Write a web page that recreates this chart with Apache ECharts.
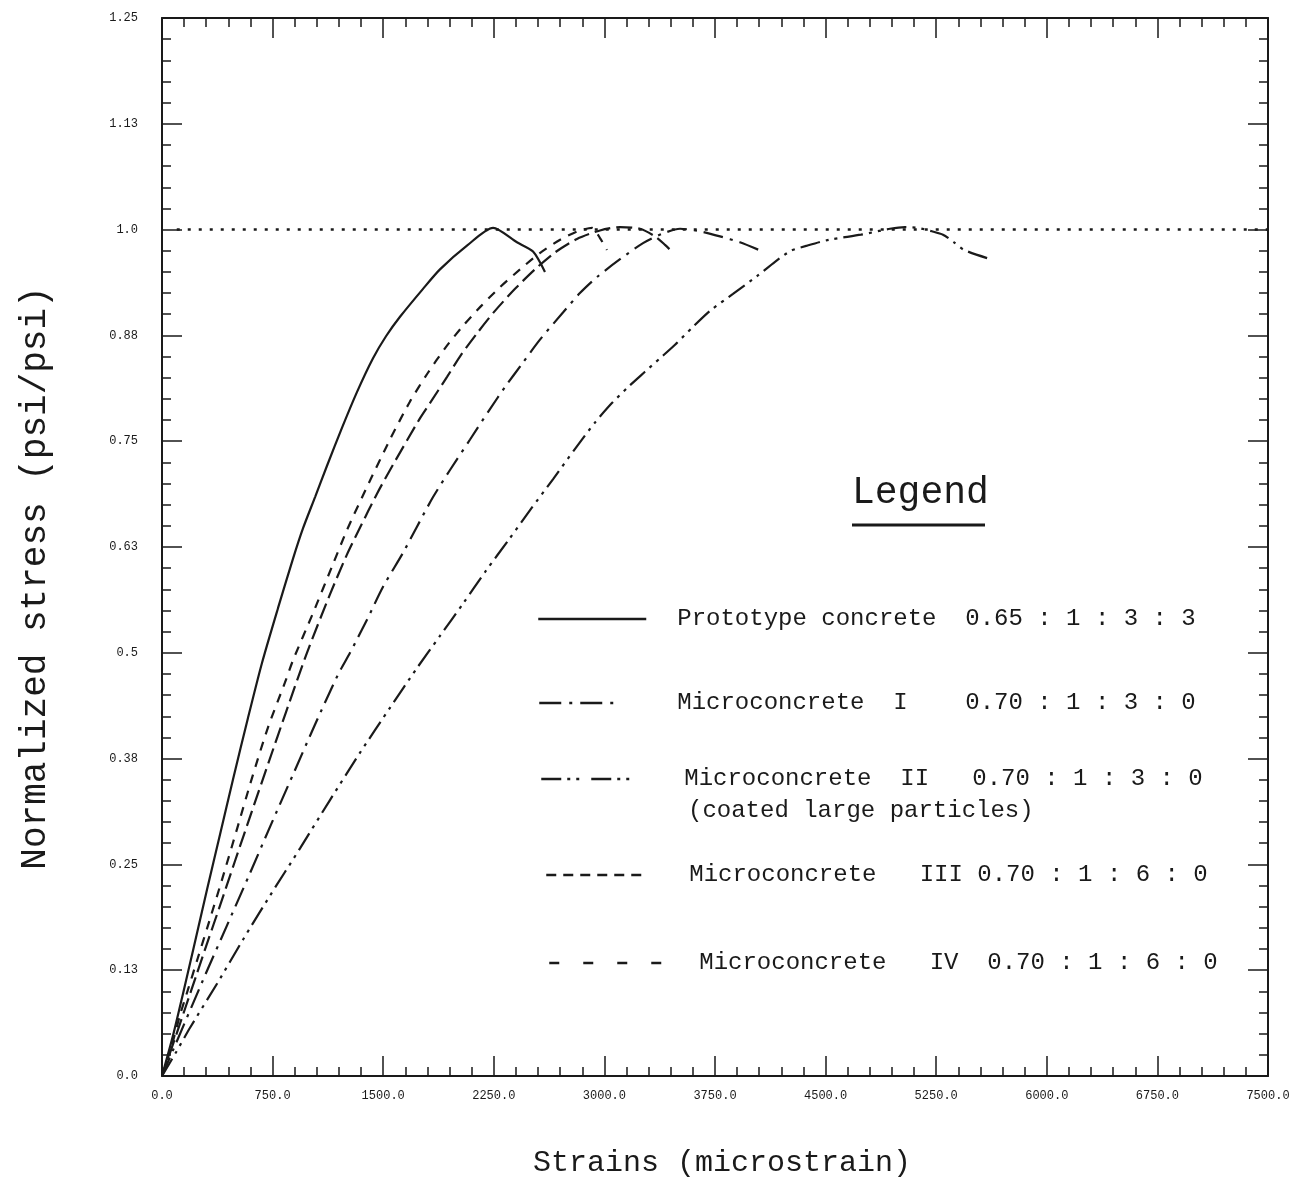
<!DOCTYPE html>
<html>
<head>
<meta charset="utf-8">
<title>Normalized stress vs strain</title>
<script src="https://cdn.jsdelivr.net/npm/echarts@6/dist/echarts.min.js"></script>
<style>
  html, body { margin: 0; padding: 0; background: #fff; }
  #chart { width: 1308px; height: 1187px; }
</style>
</head>
<body>
<div id="chart"></div>
<script>
// tick labels as printed on the original plot
const xTickLabels = ['0.0', '750.0', '1500.0', '2250.0', '3000.0', '3750.0', '4500.0', '5250.0', '6000.0', '6750.0', '7500.0']
const yTickLabels = ['0.0', '0.13', '0.25', '0.38', '0.5', '0.63', '0.75', '0.88', '1.0', '1.13', '1.25']

const seriesNames = ['Prototype concrete', 'Microconcrete I', 'Microconcrete II', 'Microconcrete III', 'Microconcrete IV']
const legendLabels = [
  'Prototype concrete  0.65 : 1 : 3 : 3',
  'Microconcrete  I    0.70 : 1 : 3 : 0',
  'Microconcrete  II   0.70 : 1 : 3 : 0',
  'Microconcrete   III 0.70 : 1 : 6 : 0',
  'Microconcrete   IV  0.70 : 1 : 6 : 0',
]

// strains (microstrain) / normalized stress
const protoStrain = [0, 75, 142, 210, 305, 393, 481, 583, 678, 787, 888, 956, 1038, 1119, 1221, 1322, 1431, 1519, 1614, 1770, 1885, 2068, 2245, 2407, 2516, 2597]
const protoStress = [0, 0.048, 0.097, 0.148, 0.22, 0.285, 0.35, 0.423, 0.488, 0.553, 0.611, 0.647, 0.684, 0.721, 0.766, 0.808, 0.848, 0.874, 0.897, 0.93, 0.953, 0.981, 1.002, 0.985, 0.974, 0.95]

const mc1Strain = [0, 292, 441, 590, 739, 888, 1037, 1193, 1275, 1390, 1499, 1634, 1729, 1838, 1953, 2089, 2224, 2326, 2448, 2563, 2719, 2834, 2950, 3106, 3262, 3390, 3513, 3648, 3784, 3919, 4075]
const mc1Stress = [0, 0.119, 0.178, 0.237, 0.297, 0.356, 0.415, 0.474, 0.5, 0.539, 0.578, 0.618, 0.649, 0.684, 0.716, 0.752, 0.788, 0.814, 0.843, 0.87, 0.902, 0.925, 0.944, 0.965, 0.984, 0.995, 1.001, 0.998, 0.992, 0.985, 0.974]

const mc2Strain = [0, 95, 190, 373, 549, 732, 936, 1139, 1343, 1546, 1729, 1885, 2041, 2197, 2353, 2502, 2651, 2801, 2936, 3051, 3167, 3275, 3377, 3479, 3594, 3716, 3872, 4035, 4157, 4265, 4374, 4523, 4740, 4937, 5038, 5126, 5221, 5296, 5371, 5438, 5601]
const mc2Stress = [0, 0.028, 0.057, 0.109, 0.161, 0.213, 0.269, 0.326, 0.382, 0.435, 0.482, 0.52, 0.558, 0.597, 0.634, 0.67, 0.705, 0.741, 0.772, 0.795, 0.815, 0.832, 0.848, 0.864, 0.884, 0.904, 0.924, 0.945, 0.962, 0.975, 0.981, 0.988, 0.994, 1.001, 1.003, 1.002, 0.998, 0.994, 0.985, 0.976, 0.966]

const mc3Strain = [0, 95, 163, 231, 312, 387, 495, 610, 726, 841, 983, 1139, 1254, 1343, 1458, 1566, 1749, 1817, 1933, 2028, 2143, 2258, 2394, 2529, 2665, 2814, 2970, 3106, 3241, 3343, 3411, 3458]
const mc3Stress = [0, 0.048, 0.083, 0.118, 0.16, 0.198, 0.254, 0.313, 0.372, 0.43, 0.5, 0.569, 0.616, 0.648, 0.688, 0.722, 0.777, 0.795, 0.826, 0.852, 0.879, 0.904, 0.93, 0.953, 0.973, 0.989, 0.999, 1.003, 1.001, 0.992, 0.982, 0.974]

const mc4Strain = [0, 68, 122, 176, 244, 312, 407, 509, 610, 719, 834, 888, 1024, 1160, 1254, 1390, 1546, 1682, 1800, 1920, 2040, 2160, 2292, 2428, 2560, 2700, 2820, 2916, 2970, 3017]
const mc4Stress = [0, 0.037, 0.072, 0.102, 0.14, 0.178, 0.232, 0.292, 0.352, 0.412, 0.465, 0.491, 0.547, 0.605, 0.645, 0.696, 0.752, 0.797, 0.83, 0.86, 0.886, 0.909, 0.932, 0.953, 0.972, 0.988, 0.998, 1.002, 0.99, 0.976]

// reference level (peak stress = 1.0)
const peakStrain = [100, 7500]
const peakStress = [1.0, 1.0]

const MONO = '"Liberation Mono", "DejaVu Sans Mono", monospace'
const INK = '#1a1a1a'

const zip = (xs, ys) => xs.map((x, i) => [x, ys[i]])

const curves = [
  { data: zip(protoStrain, protoStress), dash: 'solid', legendDash: 'solid', legendWidth: 108, left: 537, top: 607, pad: 26 },
  { data: zip(mc1Strain, mc1Stress), dash: [20, 7, 3, 7], legendDash: [22, 8, 3, 8], legendWidth: 80, left: 538, top: 691, pad: 53 },
  { data: zip(mc2Strain, mc2Stress), dash: [20, 6, 3, 6, 3, 6], legendDash: [20, 6, 3, 6, 3, 12], legendWidth: 100, left: 540, top: 767, pad: 38 },
  { data: zip(mc3Strain, mc3Stress), dash: [16, 6], legendDash: [10, 7], legendWidth: 95, left: 545, top: 863, pad: 43 },
  { data: zip(mc4Strain, mc4Stress), dash: [9, 8], legendDash: [10, 24], legendWidth: 112, left: 548, top: 951, pad: 33 },
]

const chart = echarts.init(document.getElementById('chart'), null, { renderer: 'canvas' })

const baseAxis = {
  type: 'value',
  axisLine: { onZero: false, lineStyle: { color: INK, width: 2 } },
  axisTick: { inside: true, length: 20, lineStyle: { color: INK, width: 1.5 } },
  minorTick: { show: true, splitNumber: 5, length: 9, lineStyle: { color: INK, width: 1.5 } },
  splitLine: { show: false },
}

chart.setOption({
  animation: false,
  backgroundColor: '#fff',
  grid: { left: 162, right: 40, top: 18, bottom: 111 },
  xAxis: [
    {
      ...baseAxis,
      min: 0,
      max: 7500,
      interval: 750,
      name: 'Strains (microstrain)',
      nameLocation: 'middle',
      nameGap: 72,
      nameTextStyle: { fontFamily: MONO, fontSize: 30, color: INK, padding: [0, 0, 0, 14] },
      axisLabel: {
        margin: 14,
        fontFamily: MONO,
        fontSize: 12,
        color: INK,
        formatter: v => xTickLabels[Math.round(v / 750)],
      },
    },
    { ...baseAxis, position: 'top', min: 0, max: 7500, interval: 750, axisLabel: { show: false } },
  ],
  yAxis: [
    {
      ...baseAxis,
      min: 0,
      max: 1.25,
      interval: 0.125,
      name: 'Normalized stress (psi/psi)',
      nameLocation: 'middle',
      nameGap: 109,
      nameTextStyle: { fontFamily: MONO, fontSize: 36, color: INK, padding: [0, 62, 0, 0] },
      axisLabel: {
        margin: 24,
        fontFamily: MONO,
        fontSize: 12,
        color: INK,
        formatter: v => yTickLabels[Math.round(v / 0.125)],
      },
    },
    { ...baseAxis, position: 'right', min: 0, max: 1.25, interval: 0.125, axisLabel: { show: false } },
  ],
  legend: curves.map((c, i) => ({
    data: [seriesNames[i]],
    left: c.left,
    top: c.top,
    padding: 0,
    itemWidth: c.legendWidth,
    itemHeight: 14,
    selectedMode: false,
    itemStyle: { opacity: 0 },
    lineStyle: { type: c.legendDash, width: 2.5, color: INK },
    formatter: () => legendLabels[i],
    textStyle: { fontFamily: MONO, fontSize: 24, color: INK, padding: [0, 0, 0, c.pad] },
  })),
  graphic: [
    {
      type: 'text',
      left: 852,
      top: 474,
      style: { text: 'Legend', font: `38px ${MONO}`, fill: INK },
    },
    {
      type: 'line',
      shape: { x1: 852, y1: 525, x2: 985, y2: 525 },
      style: { stroke: INK, lineWidth: 3 },
    },
    {
      type: 'text',
      left: 688,
      top: 799,
      style: { text: '(coated large particles)', font: `24px ${MONO}`, fill: INK },
    },
  ],
  series: [
    ...curves.map((c, i) => ({
      name: seriesNames[i],
      type: 'line',
      data: c.data,
      symbol: 'none',
      smooth: 0.25,
      itemStyle: { color: INK },
      lineStyle: { color: INK, width: 2.2, type: c.dash },
    })),
    {
      name: 'Peak',
      type: 'line',
      data: zip(peakStrain, peakStress),
      symbol: 'none',
      itemStyle: { color: INK },
      lineStyle: { color: INK, width: 2.5, type: [3, 8] },
    },
  ],
})
</script>
</body>
</html>
